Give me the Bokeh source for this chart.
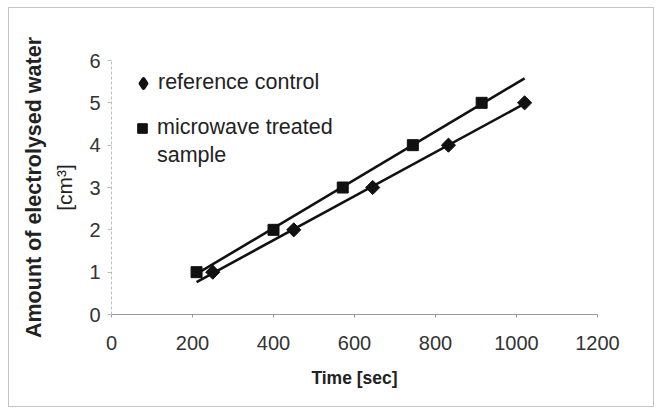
import numpy as np
from bokeh.plotting import figure
from bokeh.models import Range1d, LinearAxis, FixedTicker, Legend, LegendItem
from bokeh.embed import file_html
from bokeh.resources import INLINE

# data
ref_time = [250, 450, 645, 832, 1020]
ref_water = [1, 2, 3, 4, 5]
mw_time = [210, 400, 571, 744, 914]
mw_water = [1, 2, 3, 4, 5]
x_ticks = [0, 200, 400, 600, 800, 1000, 1200]
y_ticks = [0, 1, 2, 3, 4, 5, 6]
ref_label = "reference control"
mw_label_lines = ["microwave treated", "sample"]
x_title = "Time [sec]"
y_title = "Amount of electrolysed water"
y_unit = "[cm³]"

FONT = "Liberation Sans"
INK = "#111111"

p = figure(width=646, height=400, output_backend="svg", toolbar_location=None,
           x_range=Range1d(0, 1200), y_range=Range1d(0, 6),
           min_border_left=102, min_border_right=58,
           min_border_top=52, min_border_bottom=94)
p.styles = {"border": "1px solid #c4c4c4", "margin-left": "8px", "margin-top": "7px"}
p.xgrid.visible = False
p.ygrid.visible = False
p.outline_line_color = None
p.background_fill_color = "white"
p.border_fill_color = "white"

# trend lines (least squares) over the full time span of the data
x_all = ref_time + mw_time
x_span = np.array([min(x_all), max(x_all)])
for xs, ys in ((ref_time, ref_water), (mw_time, mw_water)):
    k, b = np.polyfit(xs, ys, 1)
    p.line(x_span, k * x_span + b, line_color=INK, line_width=2.6)

# diamond glyph used for the legend entry (tiny in the plot, hidden under the markers)
leg_diamond = p.scatter(ref_time, ref_water, marker="diamond", size=1,
                        fill_color=INK, line_color=INK, line_width=4,
                        line_join="round")
r_ref = p.scatter(ref_time, ref_water, marker="square", angle=np.pi / 4,
                  size=10, color=INK)
r_mw = p.scatter(mw_time, mw_water, marker="square", size=11, color=INK)
leg_blank = p.scatter(mw_time, mw_water, marker="square", size=1,
                      fill_alpha=0, line_alpha=0)

# x axis
xa = p.xaxis[0]
xa.ticker = FixedTicker(ticks=x_ticks)
xa.axis_line_color = "#9a9a9a"
xa.major_tick_line_color = "#9a9a9a"
xa.major_tick_out = 3
xa.major_tick_in = 0
xa.minor_tick_out = 0
xa.minor_tick_in = 0
xa.major_label_standoff = 18
xa.major_label_text_font = FONT
xa.major_label_text_font_size = "20px"
xa.major_label_text_color = "#333333"
xa.axis_label = x_title
xa.axis_label_text_font = FONT
xa.axis_label_text_font_size = "17.5px"
xa.axis_label_text_font_style = "bold"
xa.axis_label_text_color = "#222222"
xa.axis_label_standoff = 15

# y axis (inner, with unit label)
ya = p.yaxis[0]
ya.ticker = FixedTicker(ticks=y_ticks)
ya.axis_line_color = "#bdbdbd"
ya.axis_line_dash = "3 2"
ya.major_tick_line_color = "#bdbdbd"
ya.major_tick_out = 4
ya.major_tick_in = 0
ya.minor_tick_out = 0
ya.minor_tick_in = 0
ya.major_label_standoff = 7
ya.major_label_text_font = FONT
ya.major_label_text_font_size = "20px"
ya.major_label_text_color = "#333333"
ya.axis_label = y_unit
ya.axis_label_text_font = FONT
ya.axis_label_text_font_size = "21px"
ya.axis_label_text_font_style = "normal"
ya.axis_label_text_color = "#222222"
ya.axis_label_standoff = 10

# outer y axis carrying the bold title
yo = LinearAxis(ticker=FixedTicker(ticks=[]), axis_label=y_title,
                axis_line_color=None, major_tick_out=0, major_tick_in=0,
                minor_tick_out=0, minor_tick_in=0, major_label_standoff=0,
                major_label_text_font_size="0px",
                axis_label_text_font=FONT, axis_label_text_font_size="21.5px",
                axis_label_text_font_style="bold",
                axis_label_text_color="#222222", axis_label_standoff=5)
p.add_layout(yo, "left")

leg_style = dict(margin=0, padding=0, glyph_width=24, glyph_height=24,
                 label_height=24, label_standoff=3, spacing=3,
                 label_text_font=FONT, label_text_font_size="21.5px",
                 label_text_color="#222222", background_fill_alpha=0,
                 border_line_color=None)
legend1 = Legend(items=[LegendItem(label=ref_label, renderers=[leg_diamond])],
                 location=(20, 219), **leg_style)
legend1.glyph_height = 22
legend2 = Legend(items=[LegendItem(label=mw_label_lines[0], renderers=[r_mw]),
                        LegendItem(label=mw_label_lines[1], renderers=[leg_blank])],
                 location=(19, 146), **leg_style)
p.add_layout(legend1)
p.add_layout(legend2)

open("out.html", "w").write(file_html(p, INLINE))
